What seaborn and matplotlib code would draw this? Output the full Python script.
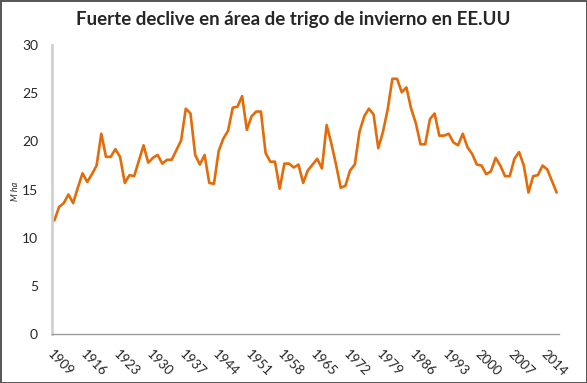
import numpy as np
import pandas as pd
import matplotlib
matplotlib.use("Agg")
import matplotlib.pyplot as plt
from matplotlib.ticker import FixedLocator
import seaborn as sns

# winter wheat area, million hectares
years = list(range(1909, 2017))
area = [
    11.8, 13.2, 13.6, 14.5, 13.6, 15.2, 16.7, 15.8, 16.6, 17.5,   # 1909-1918
    20.8, 18.4, 18.4, 19.2, 18.4, 15.7, 16.5, 16.4, 18.0, 19.6,   # 1919-1928
    17.8, 18.3, 18.6, 17.7, 18.1, 18.1, 19.1, 20.1, 23.4, 22.9,   # 1929-1938
    18.6, 17.6, 18.6, 15.7, 15.6, 19.0, 20.3, 21.1, 23.5, 23.6,   # 1939-1948
    24.7, 21.2, 22.6, 23.1, 23.1, 18.8, 17.9, 17.9, 15.1, 17.7,   # 1949-1958
    17.7, 17.3, 17.6, 15.7, 17.0, 17.6, 18.2, 17.2, 21.7, 19.8,   # 1959-1968
    17.6, 15.2, 15.4, 17.0, 17.6, 21.0, 22.6, 23.4, 22.8, 19.3,   # 1969-1978
    21.0, 23.3, 26.5, 26.5, 25.1, 25.6, 23.4, 21.9, 19.7, 19.7,   # 1979-1988
    22.3, 22.9, 20.6, 20.6, 20.8, 19.9, 19.6, 20.8, 19.4, 18.7,   # 1989-1998
    17.6, 17.5, 16.6, 16.9, 18.3, 17.5, 16.4, 16.4, 18.2, 18.9,   # 1999-2008
    17.5, 14.7, 16.4, 16.5, 17.5, 17.1, 15.9, 14.7,               # 2009-2016
]
label_years = list(range(1909, 2017, 7))
y_ticks = [0, 5, 10, 15, 20, 25, 30]

title = "Fuerte declive en área de trigo de invierno en EE.UU"
y_label = "M ha"

df = pd.DataFrame({"year": years, "area": area})

sns.set_style("white")
plt.rcParams["font.family"] = ["Lato", "DejaVu Sans"]

fig = plt.figure(figsize=(5.87, 3.83), dpi=100)
fig.patch.set_facecolor("white")
fig.patch.set_edgecolor("#595959")
fig.patch.set_linewidth(2)
ax = fig.add_axes([0.0886, 0.1272, 0.8637, 0.7553])

sns.lineplot(data=df, x="year", y="area", ax=ax, color="#E36C09", linewidth=1.9)

ax.set_xlim(years[0] - 0.5, years[-1] + 0.5)
ax.set_ylim(0, 30)
ax.set_yticks(y_ticks)
ax.set_xticks(label_years)
ax.set_xticklabels([str(y) for y in label_years], rotation=-45, ha="left",
                   rotation_mode="anchor", fontsize=9.5)
ax.xaxis.set_minor_locator(FixedLocator(np.arange(years[0] - 0.5, years[-1] + 1, 1)))
ax.tick_params(axis="x", which="major", length=0, pad=10)
ax.tick_params(axis="x", which="minor", length=4, color="#9a9a9a", width=0.8)
ax.tick_params(axis="y", length=4, color="#868686", width=0.8, labelsize=10, pad=6)

for s in ["top", "right"]:
    ax.spines[s].set_visible(False)
ax.spines["left"].set_color("#d0d0d0")
ax.spines["left"].set_linewidth(2)
ax.spines["bottom"].set_color("#9a9a9a")
ax.spines["bottom"].set_linewidth(1)

ax.set_xlabel("")
ax.set_ylabel("")
fig.text(0.026, 0.5, y_label, rotation=90, style="italic", fontsize=6.5,
         ha="center", va="center")
fig.text(0.5, 0.95, title, ha="center", va="center", fontsize=13.5, fontweight="bold")

fig.savefig("out.png", dpi=100, facecolor=fig.get_facecolor(),
            edgecolor=fig.get_edgecolor())
